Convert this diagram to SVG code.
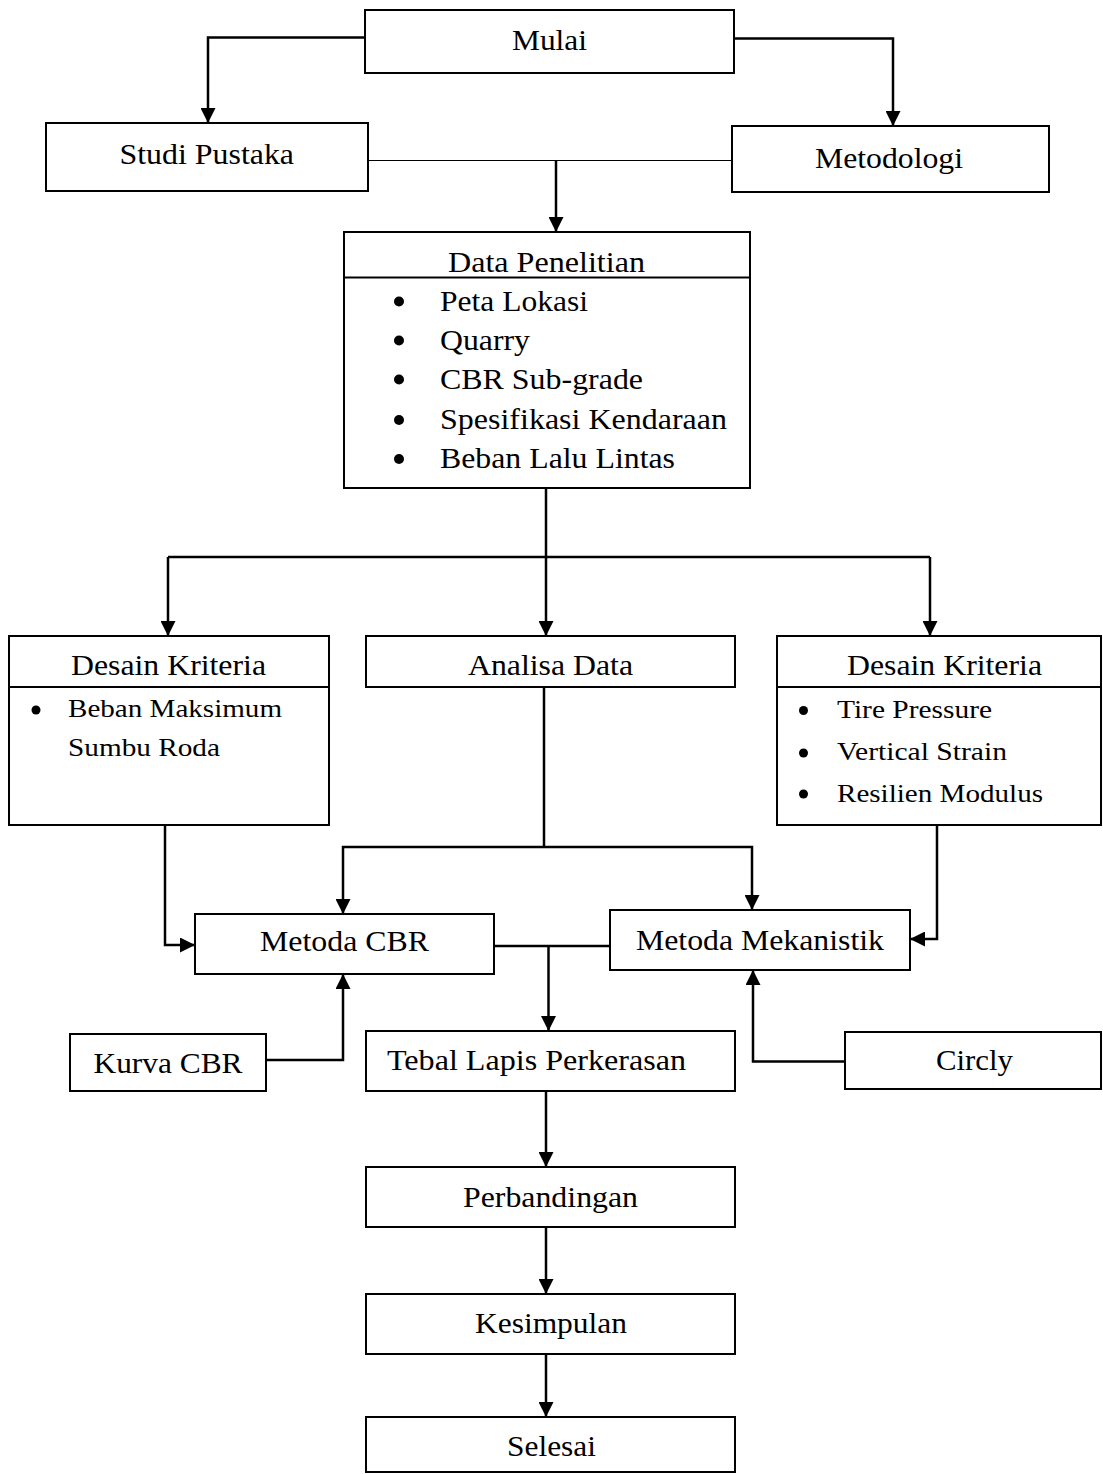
<svg xmlns="http://www.w3.org/2000/svg" width="1103" height="1474" viewBox="0 0 1103 1474">
<style>
.box{fill:#fff;stroke:#000;stroke-width:2}
.div{stroke:#000;stroke-width:2}
.t{font-family:"Liberation Serif","Times New Roman",serif;font-size:30px;fill:#000}
.s{font-family:"Liberation Serif","Times New Roman",serif;font-size:26px;fill:#000}
.c{fill:none;stroke:#000;stroke-width:2.5;stroke-linejoin:miter}
.thin{fill:none;stroke:#000;stroke-width:1.2}
.a{marker-end:url(#arr)}
</style>
<defs>
<marker id="arr" markerUnits="userSpaceOnUse" markerWidth="15" markerHeight="15" viewBox="0 0 14 14" refX="14" refY="7" orient="auto">
<path d="M0,0 L14,7 L0,14 z" fill="#000"/>
</marker>
</defs>
<rect width="1103" height="1474" fill="#fff"/>
<g id="connectors">
<path class="c a" d="M365,37.5 H208 V123"/>
<path class="c a" d="M734,38.5 H893 V126"/>
<path class="thin" d="M368,160.5 H732"/>
<path class="c a" d="M556,160.5 V232"/>
<path class="c" d="M546,488 V557"/>
<path class="c" d="M168,557 H930"/>
<path class="c a" d="M168,557 V636"/>
<path class="c a" d="M546,557 V636"/>
<path class="c a" d="M930,557 V636"/>
<path class="c a" d="M165,825 V945 H195"/>
<path class="c" d="M544,687 V847"/>
<path class="c a" d="M544,847 H343 V914"/>
<path class="c a" d="M544,847 H752 V910"/>
<path class="c a" d="M937,825 V939 H910"/>
<path class="c" d="M494,946 H610"/>
<path class="c a" d="M548.5,946 V1031"/>
<path class="c a" d="M266,1060 H343 V974"/>
<path class="c a" d="M845,1061.5 H753 V970"/>
<path class="c a" d="M546,1091 V1167"/>
<path class="c a" d="M546,1227 V1294"/>
<path class="c a" d="M546,1354 V1417"/>
</g>
<g id="mulai">
<rect class="box" x="365" y="10" width="369" height="63"/>
<text class="t" x="512" y="50" textLength="75" lengthAdjust="spacingAndGlyphs">Mulai</text>
</g>
<g id="studi-pustaka">
<rect class="box" x="46" y="123" width="322" height="68"/>
<text class="t" x="119.5" y="164" textLength="174.5" lengthAdjust="spacingAndGlyphs">Studi Pustaka</text>
</g>
<g id="metodologi">
<rect class="box" x="732" y="126" width="317" height="66"/>
<text class="t" x="815" y="168" textLength="148" lengthAdjust="spacingAndGlyphs">Metodologi</text>
</g>
<g id="data-penelitian">
<rect class="box" x="344" y="232" width="406" height="256"/>
<line class="div" x1="344" y1="277.5" x2="750" y2="277.5"/>
<text class="t" x="448" y="272" textLength="197" lengthAdjust="spacingAndGlyphs">Data Penelitian</text>
<circle cx="399" cy="301.5" r="5"/>
<circle cx="399" cy="340.5" r="5"/>
<circle cx="399" cy="379.5" r="5"/>
<circle cx="399" cy="420" r="5"/>
<circle cx="399" cy="459" r="5"/>
<text class="t" x="440" y="310.5" textLength="148" lengthAdjust="spacingAndGlyphs">Peta Lokasi</text>
<text class="t" x="440" y="350" textLength="90" lengthAdjust="spacingAndGlyphs">Quarry</text>
<text class="t" x="440" y="389" textLength="203" lengthAdjust="spacingAndGlyphs">CBR Sub-grade</text>
<text class="t" x="440" y="428.5" textLength="287" lengthAdjust="spacingAndGlyphs">Spesifikasi Kendaraan</text>
<text class="t" x="440" y="468" textLength="235" lengthAdjust="spacingAndGlyphs">Beban Lalu Lintas</text>
</g>
<g id="desain-kriteria-kiri">
<rect class="box" x="9" y="636" width="320" height="189"/>
<line class="div" x1="9" y1="687" x2="329" y2="687"/>
<text class="t" x="71" y="675" textLength="195" lengthAdjust="spacingAndGlyphs">Desain Kriteria</text>
<circle cx="36" cy="710" r="4.5"/>
<text class="s" x="68" y="717" textLength="214" lengthAdjust="spacingAndGlyphs">Beban Maksimum</text>
<text class="s" x="68" y="756" textLength="152" lengthAdjust="spacingAndGlyphs">Sumbu Roda</text>
</g>
<g id="analisa-data">
<rect class="box" x="366" y="636" width="369" height="51"/>
<text class="t" x="468" y="675" textLength="165" lengthAdjust="spacingAndGlyphs">Analisa Data</text>
</g>
<g id="desain-kriteria-kanan">
<rect class="box" x="777" y="636" width="324" height="189"/>
<line class="div" x1="777" y1="687" x2="1101" y2="687"/>
<text class="t" x="847" y="675" textLength="195" lengthAdjust="spacingAndGlyphs">Desain Kriteria</text>
<circle cx="803.5" cy="710.5" r="4.5"/>
<circle cx="803.5" cy="753" r="4.5"/>
<circle cx="803.5" cy="794" r="4.5"/>
<text class="s" x="837" y="718" textLength="155" lengthAdjust="spacingAndGlyphs">Tire Pressure</text>
<text class="s" x="837" y="760" textLength="170" lengthAdjust="spacingAndGlyphs">Vertical Strain</text>
<text class="s" x="837" y="801.5" textLength="206" lengthAdjust="spacingAndGlyphs">Resilien Modulus</text>
</g>
<g id="metoda-cbr">
<rect class="box" x="195" y="914" width="299" height="60"/>
<text class="t" x="260" y="951" textLength="169" lengthAdjust="spacingAndGlyphs">Metoda CBR</text>
</g>
<g id="metoda-mekanistik">
<rect class="box" x="610" y="910" width="300" height="60"/>
<text class="t" x="636" y="950" textLength="248" lengthAdjust="spacingAndGlyphs">Metoda Mekanistik</text>
</g>
<g id="kurva-cbr">
<rect class="box" x="70" y="1034" width="196" height="57"/>
<text class="t" x="93.5" y="1073" textLength="149" lengthAdjust="spacingAndGlyphs">Kurva CBR</text>
</g>
<g id="tebal-lapis-perkerasan">
<rect class="box" x="366" y="1031" width="369" height="60"/>
<text class="t" x="387" y="1070" textLength="299" lengthAdjust="spacingAndGlyphs">Tebal Lapis Perkerasan</text>
</g>
<g id="circly">
<rect class="box" x="845" y="1032" width="256" height="57"/>
<text class="t" x="936" y="1070" textLength="77" lengthAdjust="spacingAndGlyphs">Circly</text>
</g>
<g id="perbandingan">
<rect class="box" x="366" y="1167" width="369" height="60"/>
<text class="t" x="463" y="1207" textLength="175" lengthAdjust="spacingAndGlyphs">Perbandingan</text>
</g>
<g id="kesimpulan">
<rect class="box" x="366" y="1294" width="369" height="60"/>
<text class="t" x="475" y="1333" textLength="152" lengthAdjust="spacingAndGlyphs">Kesimpulan</text>
</g>
<g id="selesai">
<rect class="box" x="366" y="1417" width="369" height="55"/>
<text class="t" x="507" y="1456" textLength="89" lengthAdjust="spacingAndGlyphs">Selesai</text>
</g>
</svg>
